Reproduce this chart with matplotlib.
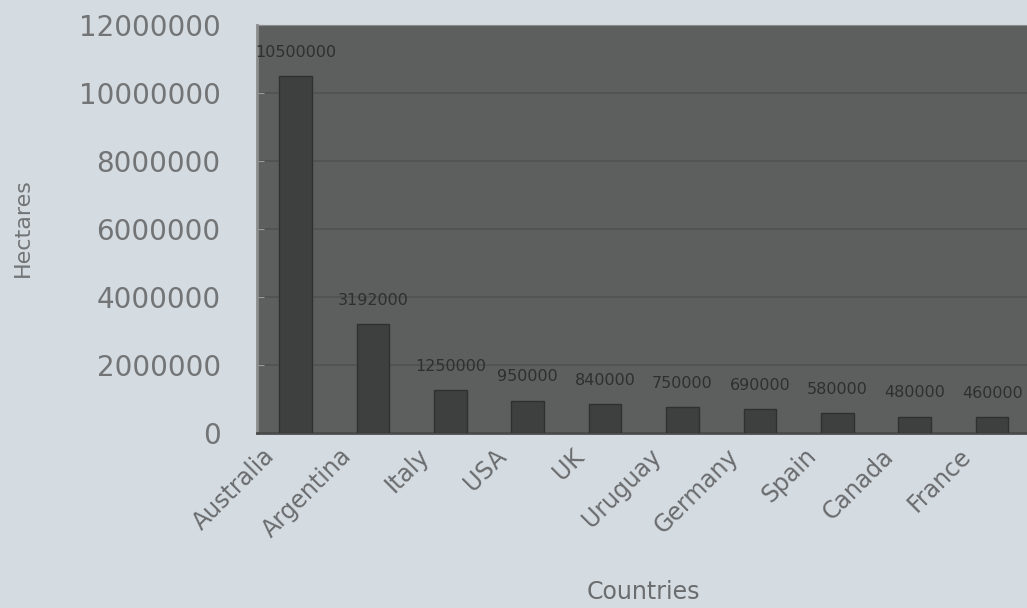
import matplotlib.pyplot as plt
from matplotlib.transforms import ScaledTranslation

countries = ['Australia', 'Argentina', 'Italy', 'USA', 'UK', 'Uruguay',
             'Germany', 'Spain', 'Canada', 'France']
hectares = [10500000, 3192000, 1250000, 950000, 840000, 750000,
            690000, 580000, 480000, 460000]
yticks = [0, 2000000, 4000000, 6000000, 8000000, 10000000, 12000000]

fig = plt.figure(figsize=(10.27, 6.08), dpi=100)
fig.patch.set_facecolor('#d4dbe1')
ax = fig.add_axes([0.250, 0.288, 0.75, 0.671])
ax.set_facecolor('#5d5f5e')

x = list(range(len(countries)))
ax.bar(x, hectares, width=0.42, color='#3e403f', edgecolor='#2f3130', linewidth=1, zorder=3)

# data labels above the bars
for xi, v in zip(x, hectares):
    ax.annotate(str(v), (xi, v), xytext=(0, 17), textcoords='offset points',
                ha='center', va='center', fontsize=11.5, color='#2e3030', zorder=4)

ax.set_ylim(0, 12000000)
ax.set_xlim(-0.5, 9.45)
ax.set_yticks(yticks)
ax.set_yticklabels([str(t) for t in yticks])
ax.yaxis.grid(True, color='#505251', linewidth=1.2, zorder=0)
ax.tick_params(axis='y', length=5, direction='in', color='#9a9a9a', pad=26,
               labelsize=20, labelcolor='#727476')
ax.tick_params(axis='x', length=0, pad=4)

ax.set_xticks(x)
ax.set_xticklabels(countries, rotation=45, ha='right', va='center',
                   rotation_mode='anchor', fontsize=17, color='#6a6c6e')
shift = ScaledTranslation(-18 / 72, -10 / 72, fig.dpi_scale_trans)
for lbl in ax.get_xticklabels():
    lbl.set_transform(lbl.get_transform() + shift)

ax.spines['right'].set_visible(False)
ax.spines['left'].set_color('#8a8c8c')
ax.spines['left'].set_linewidth(2)
ax.spines['top'].set_color('#8a8c8c')
ax.spines['bottom'].set_color('#4a4c4c')
ax.spines['bottom'].set_linewidth(2)

fig.text(0.022, 0.625, 'Hectares', rotation=90, ha='center', va='center',
         fontsize=16, color='#727476')
fig.text(0.626, 0.026, 'Countries', ha='center', va='center',
         fontsize=17, color='#6a6c6e')

fig.savefig('out.png', dpi=100, facecolor=fig.get_facecolor())
